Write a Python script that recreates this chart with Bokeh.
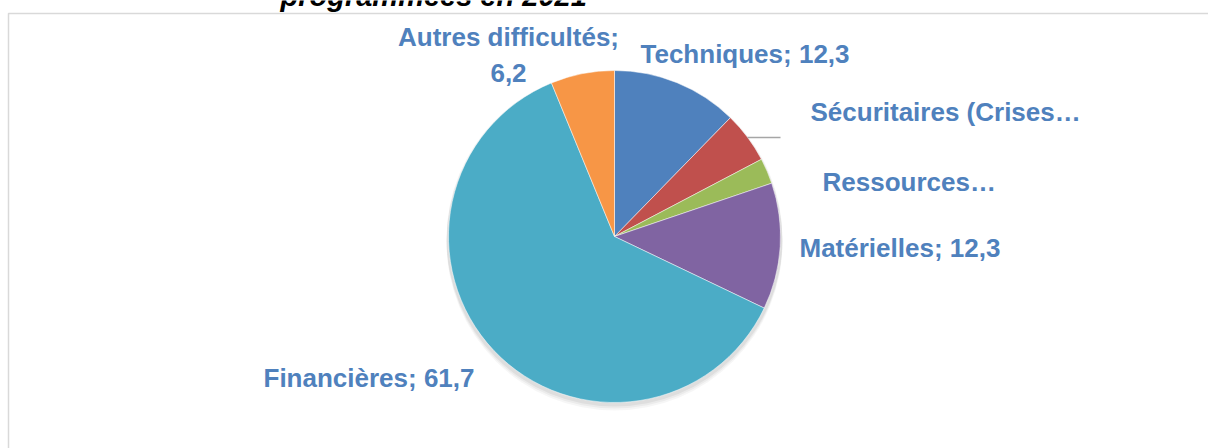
import math
from bokeh.plotting import figure
from bokeh.models import ColumnDataSource
from bokeh.core.properties import value
from bokeh.embed import file_html
from bokeh.resources import INLINE

# ---- data ----
categories = ["Techniques", "Sécuritaires (Crises sécuritaires)", "Ressources humaines",
              "Matérielles", "Financières", "Autres difficultés"]
values = [12.3, 5.0, 2.5, 12.3, 61.7, 6.2]
colors = ["#4F81BD", "#C0504D", "#9BBB59", "#8064A2", "#4BACC6", "#F79646"]
label_texts = ["Techniques; 12,3", "Sécuritaires (Crises…", "Ressources…",
               "Matérielles; 12,3", "Financières; 61,7", "Autres difficultés;\n6,2"]
title_text = "programmées en 2021"

W, H = 1208, 448
FONT = "Liberation Sans"
TXT_DY = 9    # compensation for title baseline rendering
LAB_DY = 11   # compensation for label baseline rendering

p = figure(width=W, height=H, x_range=(0, W), y_range=(0, H),
           output_backend="svg", toolbar_location=None, min_border=0)
p.axis.visible = False
p.grid.visible = False
p.outline_line_color = None
p.background_fill_color = "white"
p.border_fill_color = "white"

def Y(py):
    return H - py

# chart area border
p.quad(left=[8], right=[W + 4], top=[Y(13)], bottom=[Y(H + 4)],
       fill_color=None, line_color="#D9D9D9", line_width=1.5)

# title (cut off at top, as in the reference)
p.text(x=[280], y=[Y(4 - TXT_DY)], text=[title_text], text_font=value(FONT),
       text_font_size="29px", text_font_style="bold italic", text_color="black",
       text_baseline="alphabetic", text_align="left")

# pie
cx, cy, r = 614, Y(236), 166
total = sum(values)
starts, ends = [], []
acc = 0.0
for v in values:
    a0 = math.pi / 2 - 2 * math.pi * acc / total
    acc += v
    a1 = math.pi / 2 - 2 * math.pi * acc / total
    starts.append(a0)
    ends.append(a1)

# soft shadow
for dy, al in [(6, 0.035), (4, 0.045), (2, 0.055)]:
    p.circle(x=[cx], y=[cy - dy], radius=r + 2, radius_units="screen",
             fill_color="black", fill_alpha=al, line_color=None)

src = ColumnDataSource(dict(start=starts, end=ends, color=colors, cat=categories))
p.wedge(x=cx, y=cy, radius=r, radius_units="screen", start_angle="start",
        end_angle="end", direction="clock", fill_color="color",
        line_color="white", line_width=0.5, source=src)

# leader line for Sécuritaires
p.line(x=[747, 780], y=[Y(137), Y(137)], line_color="#A6A6A6", line_width=1.5)

# labels: (x, baseline y, align)
lab_pos = [(640, 64, "left"), (810, 122, "left"), (822, 192, "left"),
           (799, 258, "left"), (263, 388, "left"), (508, 47, "center")]
lc = "#4F81BD"
for t, (lx, ly, al) in zip(label_texts, lab_pos):
    lines = t.split("\n")
    for i, ln in enumerate(lines):
        p.text(x=[lx], y=[Y(ly - LAB_DY + i * 36)], text=[ln], text_font=value(FONT),
               text_font_size="26px", text_font_style="bold", text_color=lc,
               text_align=al, text_baseline="alphabetic")

open("out.html", "w").write(file_html(p, INLINE))
